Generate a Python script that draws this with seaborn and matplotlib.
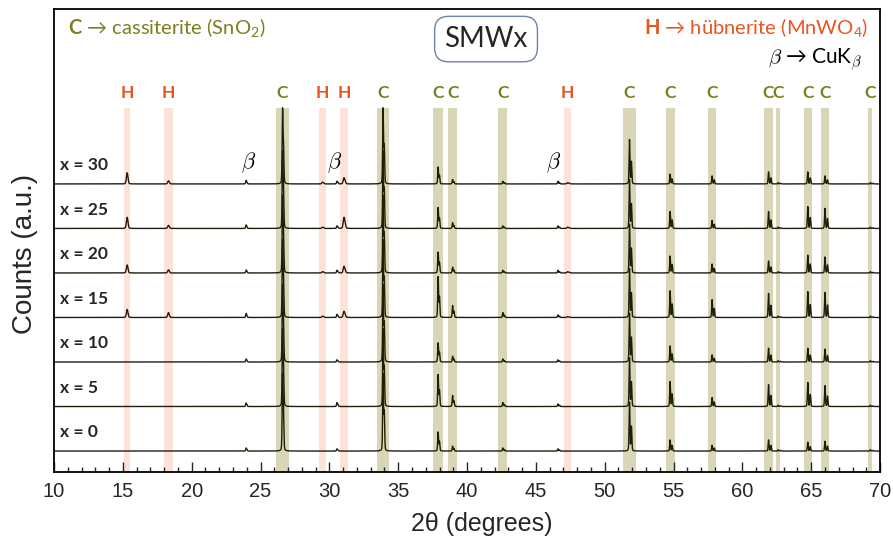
import numpy as np
import pandas as pd
import matplotlib
matplotlib.use("Agg")
import matplotlib.pyplot as plt
from matplotlib.ticker import MultipleLocator
import seaborn as sns

# sample labels, bottom trace first
samples = ["x = 0", "x = 5", "x = 10", "x = 15", "x = 20", "x = 25", "x = 30"]

# cassiterite (C) reflections, 2theta
c_pos = [26.6, 33.9, 37.9, 38.95, 42.6, 51.8, 54.75, 57.8, 61.9, 62.6, 64.75, 66.0, 69.3]
# peak heights per sample (rows follow samples), in units of trace spacing
c_heights = [
    [1.75, 1.75, 0.43, 0.11, 0.07, 1.10, 0.25, 0.13, 0.25, 0.03, 0.20, 0.22, 0.03],
    [1.75, 1.75, 0.72, 0.25, 0.09, 1.10, 0.56, 0.20, 0.49, 0.03, 0.54, 0.47, 0.03],
    [1.75, 1.75, 0.43, 0.13, 0.07, 1.10, 0.36, 0.16, 0.31, 0.03, 0.31, 0.29, 0.03],
    [1.75, 1.75, 0.92, 0.27, 0.11, 1.10, 0.60, 0.40, 0.54, 0.03, 0.58, 0.56, 0.03],
    [1.75, 1.75, 0.47, 0.13, 0.06, 1.10, 0.38, 0.20, 0.27, 0.03, 0.40, 0.36, 0.03],
    [1.75, 1.75, 0.47, 0.13, 0.06, 1.10, 0.38, 0.18, 0.38, 0.03, 0.49, 0.45, 0.03],
    [1.71, 1.71, 0.38, 0.10, 0.06, 1.00, 0.22, 0.18, 0.27, 0.03, 0.27, 0.18, 0.03],
]

# hübnerite (H) reflections
h_pos = [15.3, 18.3, 29.5, 31.05, 47.3]
h_heights = [
    [0.00, 0.00, 0.00, 0.00, 0.00],
    [0.00, 0.00, 0.00, 0.00, 0.00],
    [0.00, 0.00, 0.00, 0.00, 0.00],
    [0.18, 0.11, 0.03, 0.14, 0.02],
    [0.18, 0.07, 0.03, 0.15, 0.03],
    [0.25, 0.07, 0.03, 0.25, 0.03],
    [0.25, 0.07, 0.04, 0.14, 0.03],
]

# CuK-beta lines of the strongest cassiterite peaks
b_pos = [23.95, 30.55, 46.6]
b_heights = [
    [0.07, 0.05, 0.05],
    [0.08, 0.09, 0.06],
    [0.07, 0.05, 0.05],
    [0.09, 0.07, 0.06],
    [0.07, 0.06, 0.06],
    [0.08, 0.06, 0.06],
    [0.08, 0.06, 0.06],
]

# band widths (deg) for the highlighted reflections
c_band_w = [0.95, 0.9, 0.7, 0.65, 0.65, 0.95, 0.65, 0.6, 0.65, 0.3, 0.6, 0.65, 0.3]
h_band_w = [0.5, 0.65, 0.5, 0.55, 0.5]
beta_label_x = [24.1, 30.4, 46.3]

OLIVE = "#7a7f1c"
ORANGE = "#e8561f"
C_BAND = "#d8d6b6"
H_BAND = "#fde2da"
TRACE = "#1e1e0c"

two_theta = np.linspace(10, 70, 6001)


def peak(x, pos, h, hw=0.035):
    # pseudo-Voigt K-alpha1 with a weaker K-alpha2 shoulder, scaled so the top equals h
    d = 2 * np.tan(np.radians(pos / 2)) * 0.0025 * 180 / np.pi

    def pv(u):
        g = np.exp(-np.log(2) * (u / hw) ** 2)
        lor = hw**2 / (u**2 + hw**2)
        return 0.75 * g + 0.25 * lor

    prof = pv(x - pos) + 0.5 * pv(x - pos - d)
    return h * prof / prof.max()


frames = []
for i, s in enumerate(samples):
    y = np.zeros_like(two_theta)
    for p, h in zip(c_pos, c_heights[i]):
        y += peak(two_theta, p, h)
    for p, h in zip(h_pos, h_heights[i]):
        y += peak(two_theta, p, h, hw=0.06)
    for p, h in zip(b_pos, b_heights[i]):
        y += peak(two_theta, p, h)
    frames.append(pd.DataFrame({"two_theta": two_theta, "counts": y + i, "sample": s}))
df = pd.concat(frames, ignore_index=True)

sns.set_style("ticks")
plt.rcParams["font.family"] = ["Lato", "DejaVu Sans"]
plt.rcParams["mathtext.fontset"] = "custom"
plt.rcParams["mathtext.rm"] = "Lato"
plt.rcParams["mathtext.bf"] = "Lato:bold"
plt.rcParams["mathtext.it"] = "Lato:italic"

fig = plt.figure(figsize=(8.93, 5.44), dpi=100)
ax = fig.add_axes([0.0605, 0.1324, 0.925, 0.8511])

band_top = 0.786
for p, w in zip(c_pos, c_band_w):
    ax.axvspan(p - w / 2, p + w / 2, ymin=0, ymax=band_top, color=C_BAND, lw=0, zorder=0)
for p, w in zip(h_pos, h_band_w):
    ax.axvspan(p - w / 2, p + w / 2, ymin=0, ymax=band_top, color=H_BAND, lw=0, zorder=0)

sns.lineplot(data=df, x="two_theta", y="counts", hue="sample", palette=[TRACE] * len(samples),
             estimator=None, sort=False, legend=False, linewidth=1.0, ax=ax, zorder=2)

ax.set_xlim(10, 70)
ax.set_ylim(-0.47, 9.93)

trans = ax.get_xaxis_transform()
for p in c_pos:
    ax.text(p, 0.819, "C", transform=trans, color=OLIVE, fontsize=12.5, fontweight="bold",
            ha="center", va="center")
for p in h_pos:
    ax.text(p, 0.819, "H", transform=trans, color=ORANGE, fontsize=12.5, fontweight="bold",
            ha="center", va="center")
for bx in beta_label_x:
    ax.text(bx, 6.47, r"$\beta$", fontsize=16, ha="center", va="center", color="black",
            math_fontfamily="cm")

for i, s in enumerate(samples):
    ax.text(10.45, i + 0.42, s, fontsize=12.5, fontweight="bold", ha="left", va="center")

ax.text(0.017, 0.961, r"$\mathbf{C}$ → cassiterite (SnO$_2$)", transform=ax.transAxes,
        color=OLIVE, fontsize=14.5, ha="left", va="center")
ax.text(0.985, 0.961, r"$\mathbf{H}$ → hübnerite (MnWO$_4$)", transform=ax.transAxes,
        color=ORANGE, fontsize=14.5, ha="right", va="center")
ax.text(0.978, 0.89, r"$\beta$ → CuK$_\beta$", transform=ax.transAxes,
        color="black", fontsize=15, ha="right", va="center", math_fontfamily="cm")
ax.text(0.523, 0.935, "SMWx", transform=ax.transAxes, fontsize=20, ha="center", va="center",
        bbox=dict(boxstyle="round,pad=0.35,rounding_size=0.5", fc="white", ec="#6f82a8", lw=1))

plain = ["Liberation Sans", "DejaVu Sans"]
ax.set_xlabel("2θ (degrees)", fontsize=18, family=plain)
ax.set_ylabel("Counts (a.u.)", fontsize=20, family=plain)
ax.xaxis.set_label_coords(0.518, -0.086)
ax.yaxis.set_label_coords(-0.019, 0.47)
ax.xaxis.set_major_locator(MultipleLocator(5))
ax.xaxis.set_minor_locator(MultipleLocator(1))
ax.tick_params(axis="x", which="major", direction="in", length=7, width=1, labelsize=14.5, pad=7)
ax.tick_params(axis="x", which="minor", direction="in", length=3.5, width=1)
for lab in ax.get_xticklabels():
    lab.set_family(plain)
ax.set_yticks([])
for sp in ax.spines.values():
    sp.set_visible(True)
    sp.set_linewidth(1.3)
    sp.set_color("black")

fig.savefig("out.png", dpi=100)
